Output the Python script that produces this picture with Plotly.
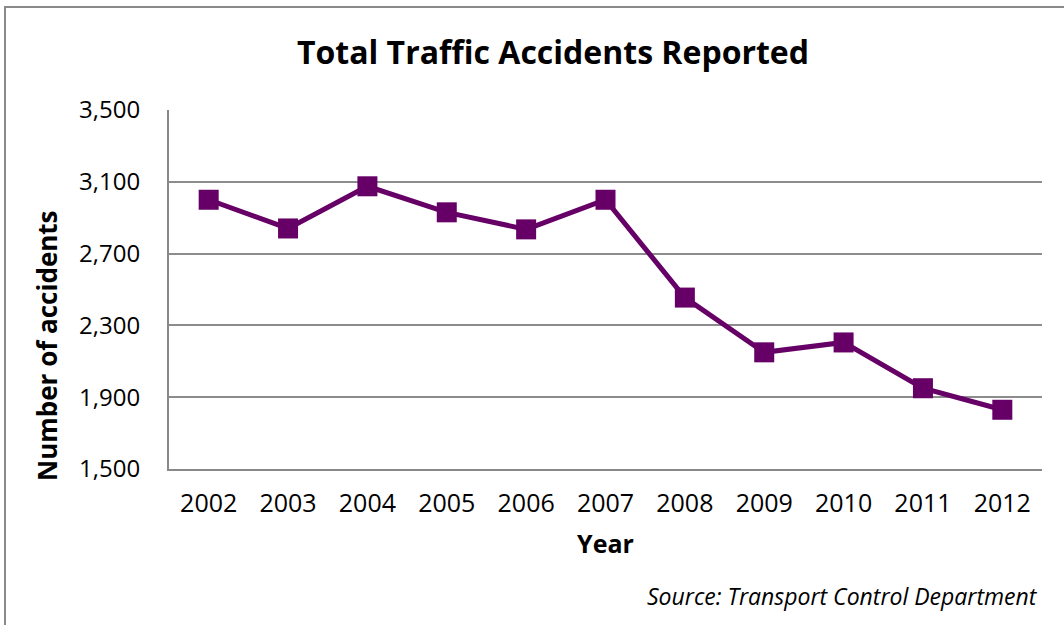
import plotly.graph_objects as go

years = ["2002", "2003", "2004", "2005", "2006", "2007", "2008", "2009", "2010", "2011", "2012"]
accidents = [3000, 2840, 3075, 2930, 2835, 3000, 2455, 2150, 2205, 1950, 1830]
y_ticks = [1500, 1900, 2300, 2700, 3100, 3500]

FONT = "Open Sans"
W, H = 1064, 625
L, R, T, B = 169, 22, 110, 156
pw, ph = W - L - R, H - T - B

def px(x):
    return (x - L) / pw

def py(y):
    return (H - B - y) / ph

fig = go.Figure()
fig.add_trace(go.Scatter(
    x=years, y=accidents, mode="lines+markers",
    line=dict(color="#660066", width=5),
    marker=dict(symbol="square", size=20, color="#660066"),
    showlegend=False,
))

fig.update_layout(
    width=W, height=H,
    margin=dict(l=L, r=R, t=T, b=B),
    paper_bgcolor="white", plot_bgcolor="white",
    font=dict(family=FONT, color="black", size=22),
    title=dict(text="<b>Total Traffic Accidents Reported</b>", xref="container", x=553 / W, xanchor="center",
               yref="container", y=1 - 53 / H, yanchor="middle", font=dict(size=32, family=FONT)),
    xaxis=dict(type="category", range=[-0.5, 10.5], showgrid=False,
               showline=True, linecolor="#888888", linewidth=2, ticks="",
               tickfont=dict(size=25), ticklabelstandoff=11,
               title=dict(text="<b>Year</b>", font=dict(size=25), standoff=17)),
    yaxis=dict(range=[1500, 3500], tickvals=y_ticks, tickformat=",",
               showgrid=True, gridcolor="#8c8c8c", gridwidth=1.5,
               showline=True, linecolor="#888888", linewidth=2, ticks="",
               tickfont=dict(size=24), ticklabelstandoff=22),
    shapes=[dict(type="rect", xref="paper", yref="paper",
                 x0=px(5), x1=px(1100), y0=py(7), y1=py(700),
                 line=dict(color="#8a8a8a", width=2), fillcolor="rgba(0,0,0,0)", layer="below")],
    annotations=[
        dict(text="<i>Source: Transport Control Department</i>", xref="paper", yref="paper",
             x=px(1040), y=py(596), xanchor="right", yanchor="middle", showarrow=False,
             font=dict(size=23, family=FONT)),
        dict(text="<b>Number of accidents</b>", xref="paper", yref="paper",
             x=px(47), y=py(346), xanchor="center", yanchor="middle", showarrow=False,
             textangle=-90, font=dict(size=26, family=FONT)),
    ],
)

fig.write_html("out.html", config={"displayModeBar": False},
               post_script="document.body.style.margin='0';")
